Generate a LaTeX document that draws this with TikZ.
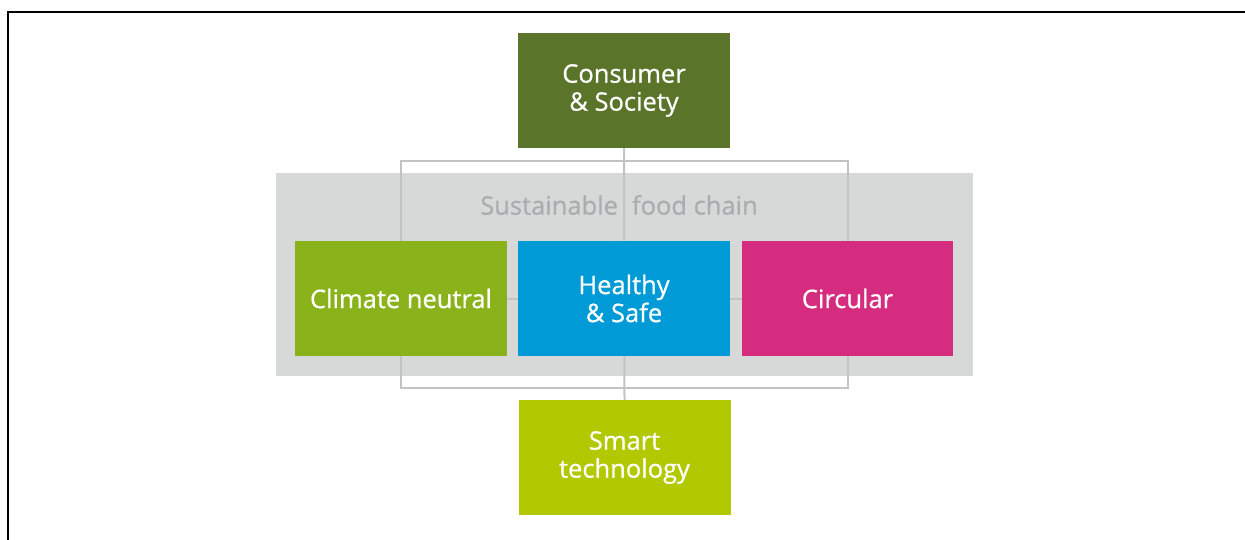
\documentclass[tikz,border=0pt]{standalone}
\usepackage{fontspec}
\setmainfont{Open Sans}
\newfontfamily\semifont[FakeBold=0.7]{Open Sans}
\usepackage{tikz}
\usetikzlibrary{backgrounds}
\definecolor{consgreen}{HTML}{5A742A}
\definecolor{climgreen}{HTML}{8AB31B}
\definecolor{healblue}{HTML}{009AD6}
\definecolor{circpink}{HTML}{D62C7F}
\definecolor{smartlime}{HTML}{B2C800}
\definecolor{bandgray}{HTML}{D7D9D8}
\definecolor{linkgray}{HTML}{C2C4C4}
\definecolor{labelgray}{HTML}{A9ADAD}
\tikzset{
	tile/.style={minimum width=212pt, minimum height=115pt, inner sep=0pt, text=white, align=center,
		font=\semifont\fontsize{25.5}{28}\selectfont},
	link/.style={linkgray, line width=2pt}
}

\begin{document}
\begin{tikzpicture}[x=1pt, y=-1pt]
	\useasboundingbox (0,0) rectangle (1245,540);
	\draw[line width=2pt] (7.7,540) |- (1245,12);
	\node[tile, fill=consgreen] (cons) at (624,90.5) {Consumer\\\& Society};
	\node[tile, fill=climgreen] (clim) at (401,298.5) {Climate neutral};
	\node[tile, fill=healblue] (heal) at (624,298.5) {Healthy\\\& Safe};
	\node[tile, fill=circpink, minimum width=211pt] (circ) at (847.5,298.5) {Circular};
	\node[tile, fill=smartlime] (smart) at (624.5,457.5) {Smart\\technology};
	\node[labelgray, font=\semifont\fontsize{25.5}{28}\selectfont] (chain) at (619,205) {Sustainable\hspace{0.55em}food chain};
	\coordinate (topbar) at (624,161);
	\coordinate (botbar) at (624,388);
	\begin{scope}[on background layer]
		\fill[bandgray] (276,173) rectangle (973,376);
		\draw[link] (cons.south) -- (smart.north);
		\draw[link] (clim.north) |- (topbar) -| (circ.north);
		\draw[link] (clim.south) |- (botbar) -| (circ.south);
		\draw[link] (clim.east) -- (circ.west);
	\end{scope}
\end{tikzpicture}
\end{document}
